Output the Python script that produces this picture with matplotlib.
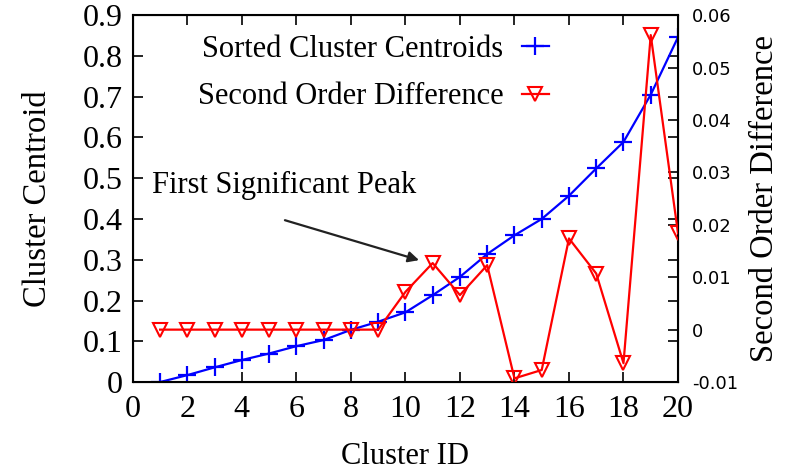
import numpy as np
import matplotlib
matplotlib.use("Agg")
import matplotlib.pyplot as plt

# values
cluster_id = list(range(1, 21))
centroids = [0.0, 0.017, 0.036, 0.054, 0.070, 0.088, 0.103, 0.128, 0.148, 0.171,
             0.213, 0.258, 0.314, 0.360, 0.400, 0.457, 0.524, 0.589, 0.705, 0.846]
second_diff = [0.0, 0.0, 0.0, 0.0, 0.0, 0.0, 0.0, 0.0, 0.0, 0.0072,
               0.0127, 0.0066, 0.0123, -0.0093, -0.0077, 0.0174, 0.0107, -0.0064, 0.0562, 0.0184]

x_ticks = [0, 2, 4, 6, 8, 10, 12, 14, 16, 18, 20]
y_ticks = [0, 0.1, 0.2, 0.3, 0.4, 0.5, 0.6, 0.7, 0.8, 0.9]
y2_ticks = [-0.01, 0, 0.01, 0.02, 0.03, 0.04, 0.05, 0.06]

plt.rcParams['font.family'] = ['Liberation Serif', 'DejaVu Serif']

fig = plt.figure(figsize=(7.86, 4.74), dpi=100)
ax = fig.add_axes([0.169, 0.194, 0.6936, 0.774])
ax2 = ax.twinx()

l1, = ax.plot(cluster_id, centroids, color='blue', marker='+', markersize=13,
              markeredgewidth=1.6, linewidth=1.6, label='Sorted Cluster Centroids')
l2, = ax2.plot(cluster_id, second_diff, color='red', marker='v', markersize=10,
               markerfacecolor='none', markeredgewidth=1.5, linewidth=1.6,
               label='Second Order Difference')

ax.set_xlim(0, 20)
ax.set_ylim(0, 0.9)
ax2.set_ylim(-0.01, 0.06)
ax.set_xticks(x_ticks)
ax.set_yticks(y_ticks)
ax.set_yticklabels([f"{v:g}" for v in y_ticks])
ax2.set_yticks(y2_ticks)
ax2.set_yticklabels([f"{v:g}" for v in y2_ticks], family='DejaVu Sans', fontsize=13)

ax.tick_params(direction='in', length=7, width=1.2, labelsize=23, top=True, right=True,
               labelright=False)
ax.tick_params(axis='x', pad=9)
ax.tick_params(axis='y', pad=7)
ax2.tick_params(direction='in', length=7, width=1.2, pad=10)
for sp in ax.spines.values():
    sp.set_linewidth(1.5)

ax.set_xlabel('Cluster ID', fontsize=22, labelpad=13)
ax.set_ylabel('Cluster Centroid', fontsize=23.5, labelpad=22)
ax2.set_ylabel('Second Order Difference', fontsize=23.5, labelpad=8)

ax.text(0.7, 0.483, 'First Significant Peak', fontsize=22, va='center', ha='left')
ax.annotate('', xy=(10.5, 0.299), xytext=(5.58, 0.397),
            arrowprops=dict(arrowstyle='-|>', color='#222222', lw=1.6,
                            shrinkA=0, shrinkB=0, mutation_scale=16))

leg = ax2.legend(handles=[l1, l2], loc='upper right', bbox_to_anchor=(0.8, 1.0),
                 frameon=False, markerfirst=False, fontsize=22, handlelength=0.9,
                 labelspacing=0.6, handletextpad=0.6, borderaxespad=0.25)

fig.savefig('out.png', dpi=100)
